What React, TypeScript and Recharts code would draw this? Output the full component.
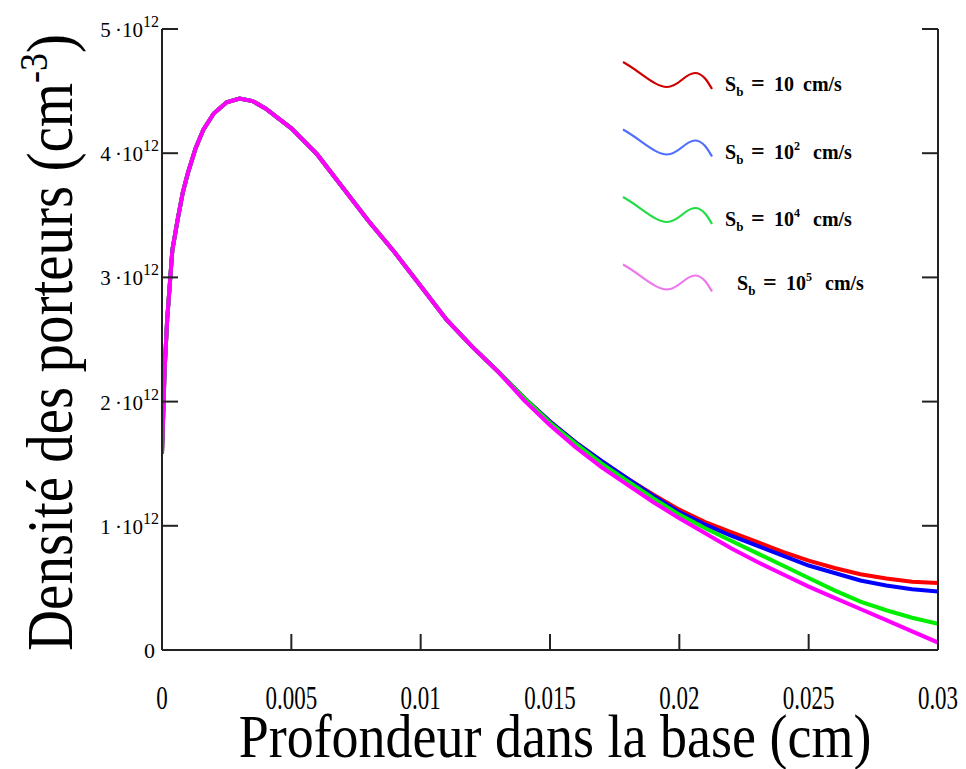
import React from 'react';
import { LineChart, Line, XAxis, YAxis, Legend } from 'recharts';

// Depth in the base (cm)
const depth = [
  0, 0.0001, 0.0002, 0.0004, 0.0006, 0.0008, 0.001, 0.0013, 0.0016, 0.002,
  0.0025, 0.003, 0.0035, 0.004, 0.005, 0.006, 0.007, 0.008, 0.009, 0.01,
  0.011, 0.012, 0.013, 0.014, 0.015, 0.016, 0.017, 0.018, 0.019, 0.02,
  0.021, 0.022, 0.023, 0.024, 0.025, 0.026, 0.027, 0.028, 0.029, 0.03,
];

// Carrier density, in units of 10^12 cm^-3
const sb10 = [
  1.58, 2.25, 2.66, 3.22, 3.46, 3.68, 3.84, 4.04, 4.19, 4.32,
  4.41, 4.44, 4.42, 4.36, 4.2, 3.99, 3.72, 3.45, 3.2, 2.93,
  2.66, 2.44, 2.24, 2.03, 1.84, 1.67, 1.52, 1.38, 1.25, 1.13,
  1.03, 0.95, 0.87, 0.79, 0.72, 0.66, 0.61, 0.575, 0.55, 0.54,
];
const sb1e2 = [
  1.58, 2.25, 2.66, 3.22, 3.46, 3.68, 3.84, 4.04, 4.19, 4.32,
  4.41, 4.44, 4.42, 4.36, 4.2, 3.99, 3.72, 3.45, 3.2, 2.93,
  2.66, 2.44, 2.24, 2.03, 1.84, 1.67, 1.52, 1.38, 1.24, 1.11,
  1.01, 0.92, 0.84, 0.76, 0.68, 0.62, 0.56, 0.52, 0.49, 0.47,
];
const sb1e4 = [
  1.58, 2.25, 2.66, 3.22, 3.46, 3.68, 3.84, 4.04, 4.19, 4.32,
  4.41, 4.44, 4.42, 4.36, 4.2, 3.99, 3.72, 3.45, 3.2, 2.93,
  2.66, 2.44, 2.24, 2.03, 1.83, 1.66, 1.5, 1.36, 1.22, 1.09,
  0.98, 0.88, 0.78, 0.68, 0.58, 0.48, 0.39, 0.32, 0.26, 0.21,
];
const sb1e5 = [
  1.58, 2.25, 2.66, 3.22, 3.46, 3.68, 3.84, 4.04, 4.19, 4.32,
  4.41, 4.44, 4.42, 4.36, 4.2, 3.99, 3.72, 3.45, 3.2, 2.93,
  2.66, 2.44, 2.24, 2.01, 1.81, 1.63, 1.47, 1.33, 1.19, 1.06,
  0.94, 0.82, 0.71, 0.61, 0.51, 0.42, 0.33, 0.24, 0.15, 0.06,
];

const xTicks = [0, 0.005, 0.01, 0.015, 0.02, 0.025, 0.03];
const xTickLabels = ['0', '0.005', '0.01', '0.015', '0.02', '0.025', '0.03'];
const yTicks = [0, 1, 2, 3, 4, 5];
const yTickMantissa = ['0', '1', '2', '3', '4', '5'];

const seriesKeys = ['s1', 's2', 's3', 's4'];
const seriesColors = ['#ff0000', '#0000ff', '#00ee00', '#ff00ff'];
const legendColors = ['#cc0000', '#4f6fff', '#22dd44', '#ee77ee'];
const legendExponents = ['', '2', '4', '5'];

const data = depth.map((d, i) => ({
  x: d,
  s1: sb10[i],
  s2: sb1e2[i],
  s3: sb1e4[i],
  s4: sb1e5[i],
}));

const FONT = '"Liberation Serif", "Times New Roman", serif';
const AXIS = '#222';

const BottomTick = (props: any) => {
  const { x, y, index } = props;
  const label = xTickLabels[index] || '';
  return (
    <g>
      <line x1={x} x2={x} y1={y} y2={y - 16} stroke={AXIS} strokeWidth={2} />
      <text
        x={0}
        y={0}
        textAnchor="middle"
        fontFamily={FONT}
        fontSize={23}
        fill="#000"
        transform={`translate(${x},${y + 59}) scale(1,1.5)`}
      >
        {label}
      </text>
    </g>
  );
};

const TopTick = (props: any) => {
  const { x, y } = props;
  return <line x1={x} x2={x} y1={y} y2={y + 16} stroke={AXIS} strokeWidth={2} />;
};

const LeftTick = (props: any) => {
  const { x, y, index } = props;
  const m = yTickMantissa[index];
  return (
    <g>
      <line x1={x} x2={x + 16} y1={y} y2={y} stroke={AXIS} strokeWidth={2} />
      {m === '0' ? (
        <text x={x - 7} y={y + 8} textAnchor="end" fontFamily={FONT} fontSize={22} fill="#000">0</text>
      ) : (
        <text x={x - 3} y={y + 8} textAnchor="end" fontFamily={FONT} fontSize={21} fill="#000">
          {`${m}\u2009\u00B710`}
          <tspan fontSize={16} dy={-10}>12</tspan>
        </text>
      )}
    </g>
  );
};

const RightTick = (props: any) => {
  const { x, y } = props;
  return <line x1={x} x2={x - 16} y1={y} y2={y} stroke={AXIS} strokeWidth={2} />;
};

const XTitle = (props: any) => {
  const vb = props.viewBox || { x: 162, y: 650, width: 776, height: 119 };
  const cx = vb.x + vb.width / 2 + 5;
  const by = vb.y + 107;
  return (
    <text
      x={0}
      y={0}
      textAnchor="middle"
      fontFamily={FONT}
      fontSize={54}
      fill="#000"
      transform={`translate(${cx},${by}) scale(1,1.12)`}
    >
      Profondeur dans la base (cm)
    </text>
  );
};

const YTitle = (props: any) => {
  const vb = props.viewBox || { x: 0, y: 29, width: 162, height: 621 };
  const cy = vb.y + vb.height / 2 + 3;
  const bx = vb.x + 72;
  return (
    <text
      x={0}
      y={0}
      textAnchor="middle"
      fontFamily={FONT}
      fontSize={57}
      fill="#000"
      transform={`translate(${bx},${cy}) rotate(-90) scale(1,1.14)`}
    >
      Densité des porteurs (cm
      <tspan fontSize={36} dy={-22}>-3</tspan>
      <tspan dy={22}>)</tspan>
    </text>
  );
};

const LegendContent = () => (
  <svg width={966} height={769} style={{ position: 'absolute', left: 0, top: 0 }}>
    {legendColors.map((c, i) => {
      const sx = 623;
      const sy = 62 + i * 67.5;
      const tx = sx + 102 + (i === 3 ? 12 : 0);
      const ty = sy + 29 - (i === 3 ? 4 : 0);
      const exp = legendExponents[i];
      return (
        <g key={i}>
          <path
            d={`M${sx},${sy} C${sx + 18},${sy + 10} ${sx + 32},${sy + 25} ${sx + 44},${sy + 25} C${sx + 56},${sy + 25} ${sx + 62},${sy + 11} ${sx + 72},${sy + 11} C${sx + 80},${sy + 11} ${sx + 85},${sy + 20} ${sx + 89},${sy + 27}`}
            fill="none"
            stroke={c}
            strokeWidth={2.2}
          />
          <text x={tx} y={ty} fontFamily={FONT} fontWeight="bold" fontSize={20} fill="#000">
            <tspan>S</tspan>
            <tspan fontSize={13} dy={5}>b</tspan>
            <tspan x={tx + 26} dy={-5} fontSize={24}>=</tspan>
            <tspan x={tx + 49}>10</tspan>
            {exp ? <tspan fontSize={12} dy={-9}>{exp}</tspan> : null}
            <tspan x={tx + (exp ? 88 : 78)} dy={exp ? 9 : 0}>cm/s</tspan>
          </text>
        </g>
      );
    })}
  </svg>
);

export default function App() {
  return (
    <div style={{ position: 'absolute', left: 0, top: 0, width: 966, height: 769, background: '#fff' }}>
      <LineChart width={966} height={769} data={data} margin={{ top: 29, right: 0, bottom: 0, left: 0 }}>
        <XAxis
          dataKey="x"
          type="number"
          domain={[0, 0.03]}
          ticks={xTicks}
          interval={0}
          xAxisId="bottom"
          orientation="bottom"
          height={119}
          tickLine={false}
          tickSize={0}
          tickMargin={0}
          tick={<BottomTick />}
          axisLine={{ stroke: AXIS, strokeWidth: 2 }}
          allowDataOverflow
          label={<XTitle />}
        />
        <XAxis
          dataKey="x"
          type="number"
          domain={[0, 0.03]}
          ticks={xTicks}
          interval={0}
          xAxisId="top"
          orientation="top"
          height={0}
          tickLine={false}
          tickSize={0}
          tickMargin={0}
          tick={<TopTick />}
          axisLine={{ stroke: AXIS, strokeWidth: 2 }}
          allowDataOverflow
        />
        <YAxis
          yAxisId="left"
          orientation="left"
          type="number"
          domain={[0, 5]}
          ticks={yTicks}
          interval={0}
          width={162}
          tickLine={false}
          tickSize={0}
          tickMargin={0}
          tick={<LeftTick />}
          axisLine={{ stroke: AXIS, strokeWidth: 2 }}
          allowDataOverflow
          label={<YTitle />}
        />
        <YAxis
          yAxisId="right"
          orientation="right"
          type="number"
          domain={[0, 5]}
          ticks={yTicks}
          interval={0}
          width={28}
          tickLine={false}
          tickSize={0}
          tickMargin={0}
          tick={<RightTick />}
          axisLine={{ stroke: AXIS, strokeWidth: 2 }}
          allowDataOverflow
        />
        {seriesKeys.map((k, i) => (
          <Line
            key={k}
            xAxisId="bottom"
            yAxisId="left"
            dataKey={k}
            type="linear"
            stroke={seriesColors[i]}
            strokeWidth={4}
            dot={false}
            activeDot={false}
            isAnimationActive={false}
          />
        ))}
        <Legend
          layout="horizontal"
          verticalAlign="middle"
          align="center"
          content={<LegendContent />}
          wrapperStyle={{ left: 0, top: 0, width: 966, height: 769, pointerEvents: 'none' }}
        />
      </LineChart>
    </div>
  );
}
